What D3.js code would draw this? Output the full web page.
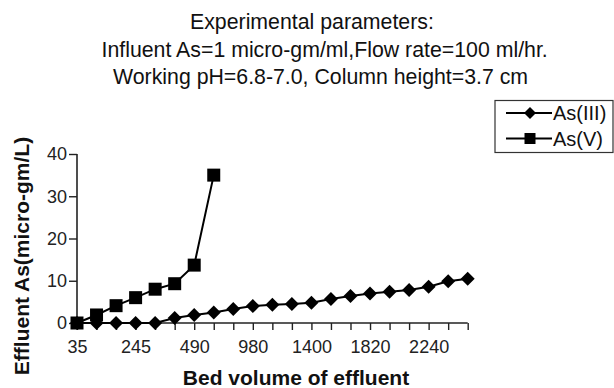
<!DOCTYPE html>
<html>
<head>
<meta charset="utf-8">
<script src="https://cdn.jsdelivr.net/npm/d3@7"></script>
<style>
  html, body { margin: 0; padding: 0; background: #fff; }
  svg { display: block; font-family: "Liberation Sans", Arial, sans-serif; }
</style>
</head>
<body>
<svg id="chart" width="614" height="388"></svg>
<script>
// Bed volumes of effluent (one category per sampling point)
const bedVolumes = [35, 105, 175, 245, 315, 385, 490, 630, 840, 980, 1120, 1260,
                    1400, 1540, 1680, 1820, 1960, 2100, 2240, 2380, 2520];
// Labelled ticks on the x axis
const xTickLabels = [35, 245, 490, 980, 1400, 1820, 2240];
// Effluent arsenic, micro-gm/L
const as3Values = [0, 0, 0, 0, 0, 1.2, 1.9, 2.5, 3.3, 4.0, 4.3, 4.5, 4.8,
                   5.7, 6.4, 7.0, 7.4, 7.8, 8.6, 9.9, 10.5];
const as5Values = [0, 1.9, 4.1, 6.0, 8.0, 9.3, 13.7, 35];
const yTicks = [0, 10, 20, 30, 40];
const titleLines = [
  "Experimental parameters:",
  "Influent As=1 micro-gm/ml,Flow rate=100 ml/hr.",
  "Working pH=6.8-7.0, Column height=3.7 cm"
];

const svg = d3.select("#chart");

const x = d3.scalePoint().domain(bedVolumes).range([77, 467.7]);
const y = d3.scaleLinear().domain([0, 40]).range([323, 154]);

// Title block (each line starts at its own indent)
const titleX = [190, 101.5, 113];
svg.append("g").selectAll("text").data(titleLines).join("text")
  .attr("x", (d, i) => titleX[i]).attr("y", (d, i) => 29 + i * 27.5)
  .attr("font-size", 21.3).attr("fill", "#111")
  .text(d => d);

// Y axis
const yAxis = svg.append("g").attr("transform", "translate(77,0)")
  .call(d3.axisLeft(y).tickValues(yTicks).tickSize(8).tickPadding(2));
// X axis: a tick at every sample, text only on selected volumes
const xAxis = svg.append("g").attr("transform", "translate(0,323)")
  .call(d3.axisBottom(x).tickSize(7).tickPadding(10)
    .tickFormat(d => xTickLabels.includes(d) ? d : ""));

[yAxis, xAxis].forEach(g => {
  g.select(".domain").attr("stroke", "#222").attr("stroke-width", 1.6);
  g.selectAll(".tick line").attr("stroke", "#222").attr("stroke-width", 1.4);
  g.selectAll(".tick text").attr("font-size", 18).attr("fill", "#222")
    .attr("font-family", "Liberation Sans, Arial, sans-serif");
});
xAxis.select(".domain").attr("d", "M77,0H467.7");
yAxis.select(".domain").attr("d", "M0,154V323");

// Axis titles
svg.append("text").attr("x", 296).attr("y", 385)
  .attr("text-anchor", "middle").attr("font-size", 21).attr("font-weight", "bold")
  .attr("fill", "#111").text("Bed volume of effluent");
svg.append("text").attr("transform", "translate(29,256) rotate(-90)")
  .attr("text-anchor", "middle").attr("font-size", 21).attr("font-weight", "bold")
  .attr("fill", "#111").text("Effluent As(micro-gm/L)");

const line = d3.line().x((d, i) => x(bedVolumes[i])).y(d => y(d));

const diamond = s => `M0,${-s}L${s},0L0,${s}L${-s},0Z`;
const square = s => `M${-s},${-s}H${s}V${s}H${-s}Z`;

function drawSeries(values, shape) {
  const g = svg.append("g");
  g.append("path").datum(values).attr("d", line)
    .attr("fill", "none").attr("stroke", "#000").attr("stroke-width", 2);
  g.selectAll("path.mk").data(values).join("path").attr("class", "mk")
    .attr("transform", (d, i) => `translate(${x(bedVolumes[i])},${y(d)})`)
    .attr("d", shape).attr("fill", "#000");
}
drawSeries(as3Values, diamond(7));
drawSeries(as5Values, square(6.5));

// Legend
const legend = svg.append("g");
legend.append("rect").attr("x", 495).attr("y", 100.5).attr("width", 118).attr("height", 52)
  .attr("fill", "#fff").attr("stroke", "#333").attr("stroke-width", 1.2);
const entries = [
  { name: "As(III)", shape: diamond(6), cy: 113 },
  { name: "As(V)", shape: square(5.5), cy: 138.5 }
];
entries.forEach(e => {
  legend.append("line").attr("x1", 506).attr("x2", 552).attr("y1", e.cy).attr("y2", e.cy)
    .attr("stroke", "#000").attr("stroke-width", 2);
  legend.append("path").attr("transform", `translate(530,${e.cy})`)
    .attr("d", e.shape).attr("fill", "#000");
  legend.append("text").attr("x", 553).attr("y", e.cy).attr("dy", "0.36em")
    .attr("font-size", 20).attr("fill", "#111").text(e.name);
});
</script>
</body>
</html>
